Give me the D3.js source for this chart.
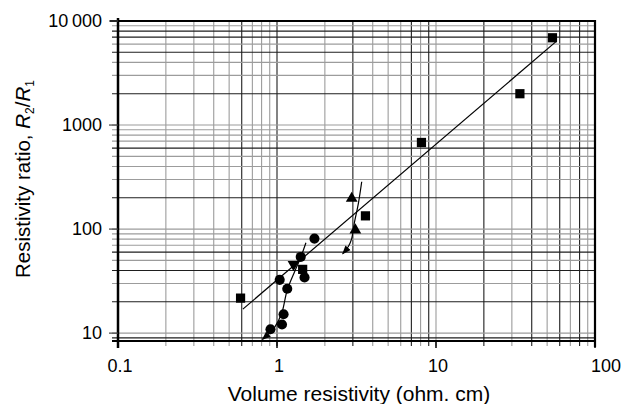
<!DOCTYPE html>
<html>
<head>
<meta charset="utf-8">
<script src="https://cdn.jsdelivr.net/npm/d3@7"></script>
<style>
  body { margin: 0; background: #fff; }
  svg { display: block; font-family: "Liberation Sans", Arial, sans-serif; }
</style>
</head>
<body>
<svg id="chart" width="623" height="404"></svg>
<script>
// values
const xTicks = [0.1, 1, 10, 100]
const xTickLabels = ['0.1', '1', '10', '100']
const yTicks = [10, 100, 1000, 10000]
const yTickLabels = ['10', '100', '1000', '10\u2009000']

const squares = [[0.59, 21.7], [1.45, 41], [3.6, 134], [8.1, 680], [33.7, 2000], [54, 6900]]
const circles = [[1.72, 81], [1.41, 54], [1.49, 34.3], [1.04, 32.5], [1.16, 26.7], [1.10, 15.2], [1.075, 12.1], [0.91, 10.9]]
const trianglesUp = [[2.95, 197], [3.11, 98]]
const trianglesDown = [[1.27, 45.8]]

const fitLine = [[0.61, 17], [56.6, 6300]]
const curveA = [[1.52, 74], [1.40, 52], [1.30, 40], [1.16, 26], [1.07, 15.5], [0.97, 11.5], [0.81, 8.7]]
const curveB = [[3.41, 285], [3.25, 177], [3.06, 113], [2.95, 81], [2.81, 68], [2.59, 58]]

const svg = d3.select('#chart')

const pLeft = 118, pRight = 595, pTop = 20, pBottom = 341
const x = d3.scaleLog().domain([0.1, 100]).range([pLeft, pRight])
const y = d3.scaleLog().domain([8.4, 10000]).range([pBottom, 21])

const dark = '#1e1e1e', grey = '#9c9c9c'

// the scanned log paper has some darker rulings, picked out by hand
const vDark = [0.6, 1, 3, 7, 9, 20, 40, 60, 80]
const hDark = [9, 20, 40, 60, 200, 600, 2000, 5000, 7000, 8000]
const isDark = (list, v) => list.some(d => Math.abs(d / v - 1) < 1e-6)

const minors = (lo, hi) => {
	let out = []
	for (let d = lo; d < hi; d *= 10)
		for (let m = 1; m <= 9; m++) out.push(d * m)
	return out
}

const grid = svg.append('g').attr('class', 'grid')

grid.selectAll('.vline')
	.data(minors(0.1, 100).filter(v => v > 0.1))
	.join('line')
	.attr('class', 'vline')
	.attr('x1', v => x(v)).attr('x2', v => x(v))
	.attr('y1', pTop).attr('y2', pBottom + 5)
	.style('stroke', v => isDark(vDark, v) ? dark : grey)
	.style('stroke-width', 1.1)

grid.selectAll('.hline')
	.data(minors(1, 10000).filter(v => v >= 8.4 && v < 10000))
	.join('line')
	.attr('class', 'hline')
	.attr('x1', pLeft - 6).attr('x2', pRight)
	.attr('y1', v => y(v)).attr('y2', v => y(v))
	.style('stroke', v => isDark(hDark, v) ? dark : grey)
	.style('stroke-width', 1.1)

// frame
const frame = svg.append('g').style('stroke', '#000')
frame.append('line').attr('x1', pLeft).attr('x2', pLeft).attr('y1', pTop - 2).attr('y2', pBottom + 7).style('stroke-width', 2.5)
frame.append('line').attr('x1', pLeft - 6).attr('x2', pRight + 1).attr('y1', pBottom).attr('y2', pBottom).style('stroke-width', 2.2)
frame.append('line').attr('x1', pRight).attr('x2', pRight).attr('y1', pTop).attr('y2', pBottom + 6).style('stroke-width', 2.2)
frame.append('line').attr('x1', pLeft - 8).attr('x2', pRight + 1).attr('y1', pTop + 1).attr('y2', pTop + 1).style('stroke-width', 1.8)

// major ticks
svg.selectAll('.ytick')
	.data(yTicks)
	.join('line')
	.attr('class', 'ytick')
	.attr('x1', pLeft - 9).attr('x2', pLeft)
	.attr('y1', d => y(d)).attr('y2', d => y(d))
	.style('stroke', '#444').style('stroke-width', 1.2)

svg.selectAll('.xtick')
	.data(xTicks)
	.join('line')
	.attr('class', 'xtick')
	.attr('x1', d => x(d)).attr('x2', d => x(d))
	.attr('y1', pBottom).attr('y2', pBottom + 7)
	.style('stroke', '#000').style('stroke-width', 1.5)

// tick labels
svg.selectAll('.ylab')
	.data(yTicks)
	.join('text')
	.attr('class', 'ylab')
	.attr('x', 102)
	.attr('y', d => y(d) + 6)
	.attr('text-anchor', 'end')
	.style('font-size', '18px')
	.text((d, i) => yTickLabels[i])

svg.selectAll('.xlab')
	.data(xTicks)
	.join('text')
	.attr('class', 'xlab')
	.attr('x', (d, i) => x(d) + (i === 3 ? 11 : 2))
	.attr('y', 372)
	.attr('text-anchor', 'middle')
	.style('font-size', '18px')
	.text((d, i) => xTickLabels[i])

// axis titles
svg.append('text')
	.attr('x', 359).attr('y', 401)
	.attr('text-anchor', 'middle')
	.style('font-size', '21px')
	.text('Volume resistivity (ohm. cm)')

let yt = svg.append('text')
	.attr('transform', 'translate(30,179) rotate(-90)')
	.attr('text-anchor', 'middle')
	.style('font-size', '20.5px')
yt.append('tspan').text('Resistivity ratio, ')
yt.append('tspan').style('font-style', 'italic').text('R')
yt.append('tspan').attr('dy', 4).style('font-size', '12px').text('2')
yt.append('tspan').attr('dy', -4).text('/')
yt.append('tspan').style('font-style', 'italic').text('R')
yt.append('tspan').attr('dy', 4).style('font-size', '12px').text('1')

// arrowhead
svg.append('defs').append('marker')
	.attr('id', 'arrow')
	.attr('viewBox', '0 -4 9 8')
	.attr('refX', 8).attr('refY', 0)
	.attr('markerWidth', 9).attr('markerHeight', 8)
	.attr('markerUnits', 'userSpaceOnUse')
	.attr('orient', 'auto')
	.append('path')
	.attr('d', 'M0,-3.5L9,0L0,3.5Z')
	.style('fill', '#000')

const line = d3.line().x(d => x(d[0])).y(d => y(d[1]))

svg.append('path')
	.datum(fitLine)
	.attr('d', line)
	.style('fill', 'none').style('stroke', '#000').style('stroke-width', 1.2)

;[curveA, curveB].forEach(c => {
	svg.append('path')
		.datum(c)
		.attr('d', line.curve(d3.curveCatmullRom))
		.attr('marker-end', 'url(#arrow)')
		.style('fill', 'none').style('stroke', '#000').style('stroke-width', 1.2)
})

// points
const sym = (type, size) => d3.symbol().type(type).size(size)()
const pts = svg.append('g').style('fill', '#000')

pts.selectAll('.sq').data(squares).join('path')
	.attr('transform', d => `translate(${x(d[0])},${y(d[1])})`)
	.attr('d', sym(d3.symbolSquare, 85))

pts.selectAll('.ci').data(circles).join('path')
	.attr('transform', d => `translate(${x(d[0])},${y(d[1])})`)
	.attr('d', sym(d3.symbolCircle, 80))

pts.selectAll('.tu').data(trianglesUp).join('path')
	.attr('transform', d => `translate(${x(d[0])},${y(d[1])})`)
	.attr('d', sym(d3.symbolTriangle, 60))

pts.selectAll('.td').data(trianglesDown).join('path')
	.attr('transform', d => `translate(${x(d[0])},${y(d[1])}) rotate(180)`)
	.attr('d', sym(d3.symbolTriangle, 60))
</script>
</body>
</html>
